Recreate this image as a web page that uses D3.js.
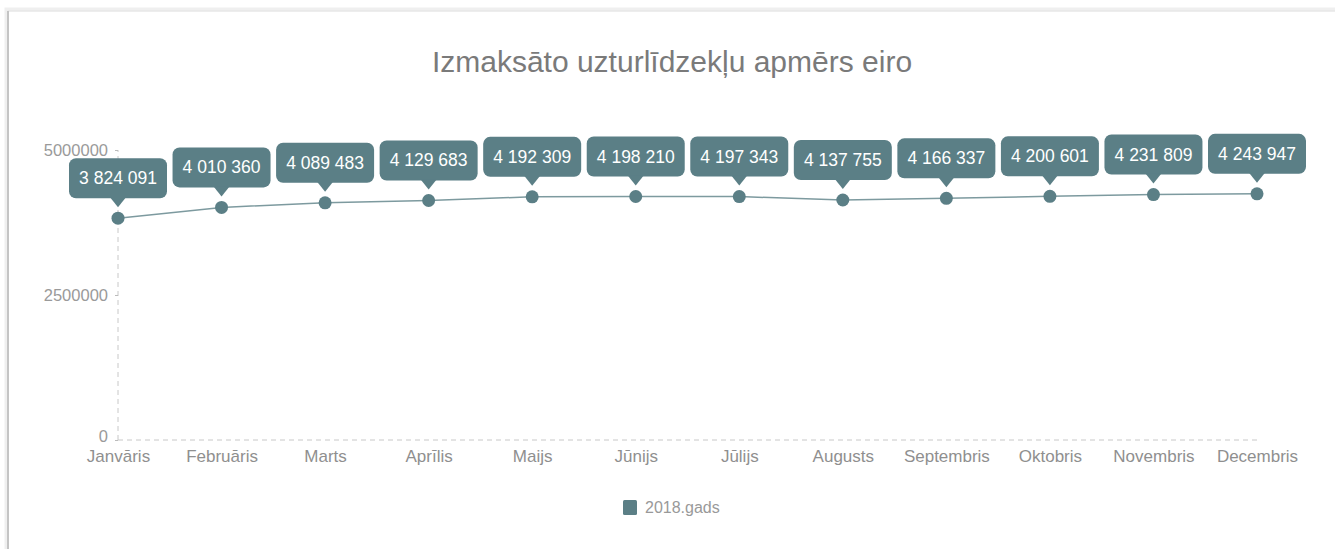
<!DOCTYPE html>
<html>
<head>
<meta charset="utf-8">
<script src="https://cdn.jsdelivr.net/npm/d3@7"></script>
<style>
	body { margin: 0; background: #fff; font-family: "Liberation Sans", Arial, sans-serif; }
</style>
</head>
<body>
<div id="chart-area"></div>
<script>
const months = ["Janvāris", "Februāris", "Marts", "Aprīlis", "Maijs", "Jūnijs",
	"Jūlijs", "Augusts", "Septembris", "Oktobris", "Novembris", "Decembris"]
const values2018 = [3824091, 4010360, 4089483, 4129683, 4192309, 4198210,
	4197343, 4137755, 4166337, 4200601, 4231809, 4243947]
const yTicks = [0, 2500000, 5000000]
const seriesName = "2018.gads"
const chartTitle = "Izmaksāto uzturlīdzekļu apmērs eiro"

const W = 1335, H = 549
const teal = "#5b7f86"

const svg = d3.select("#chart-area").append("svg")
	.attr("width", W)
	.attr("height", H)

// card frame (top + left edge with soft shadow)
svg.append("rect").attr("x", 6).attr("y", 9).attr("width", W).attr("height", H)
	.attr("fill", "none").attr("stroke", "#efefef").attr("stroke-width", 3)
svg.append("rect").attr("x", 8).attr("y", 11).attr("width", W).attr("height", H)
	.attr("fill", "#fff").attr("stroke", "#dcdcdc").attr("stroke-width", 1)
svg.append("line").attr("x1", 8).attr("x2", 8).attr("y1", 11).attr("y2", H)
	.attr("stroke", "#c4c4c4").attr("stroke-width", 2)

svg.append("text")
	.attr("x", 672).attr("y", 72)
	.attr("text-anchor", "middle")
	.attr("font-size", 30)
	.attr("fill", "#7a7a7a")
	.text(chartTitle)

const x = d3.scalePoint().domain(months).range([118, 1257])
const y = d3.scaleLinear().domain([0, 5000000]).range([440, 150])

// dashed axis lines
svg.append("line")
	.attr("x1", x(months[0])).attr("x2", x(months[months.length - 1]))
	.attr("y1", y(0)).attr("y2", y(0))
	.attr("stroke", "#c8c8c8").attr("stroke-dasharray", "5,4")
svg.append("line")
	.attr("x1", x(months[0])).attr("x2", x(months[0]))
	.attr("y1", y(0)).attr("y2", y(5000000))
	.attr("stroke", "#c8c8c8").attr("stroke-dasharray", "5,4")

// y tick labels
const yAxis = svg.append("g").attr("transform", `translate(${x(months[0])},0)`)
	.call(d3.axisLeft(y).tickValues(yTicks).tickSize(3).tickPadding(7).tickFormat(d3.format("d")))
yAxis.select(".domain").remove()
yAxis.selectAll("line").attr("stroke", "#bbb")
yAxis.selectAll("text").attr("fill", "#9a9a9a").attr("font-size", 16.5)
	.attr("font-family", "Liberation Sans, Arial, sans-serif")
	.attr("dy", d => d === 0 ? "0.1em" : "0.32em")

// x tick labels
const xAxis = svg.append("g").attr("transform", `translate(0,${y(0)})`)
	.call(d3.axisBottom(x).tickSize(0).tickPadding(10))
xAxis.select(".domain").remove()
xAxis.selectAll("text").attr("fill", "#8f8f8f").attr("font-size", 17)
	.attr("font-family", "Liberation Sans, Arial, sans-serif")

// line
const line = d3.line()
	.x((d, i) => x(months[i]))
	.y(d => y(d))
svg.append("path")
	.datum(values2018)
	.attr("d", line)
	.attr("fill", "none")
	.attr("stroke", "#7d9a9f")
	.attr("stroke-width", 1.5)

svg.selectAll("circle.pt")
	.data(values2018)
	.enter().append("circle")
	.attr("class", "pt")
	.attr("cx", (d, i) => x(months[i]))
	.attr("cy", d => y(d))
	.attr("r", 6.5)
	.attr("fill", teal)

// value callouts
const fmt = d => d3.format(",")(d).replace(/,/g, " ")
const labels = svg.selectAll("g.lbl")
	.data(values2018)
	.enter().append("g")
	.attr("class", "lbl")
	.attr("transform", (d, i) => `translate(${x(months[i])},${y(d)})`)

labels.append("rect")
	.attr("x", -49).attr("y", -60)
	.attr("width", 98).attr("height", 40)
	.attr("rx", 7)
	.attr("fill", teal)
labels.append("path")
	.attr("d", "M-8,-21 L0,-11 L8,-21 Z")
	.attr("fill", teal)
labels.append("text")
	.attr("x", 0).attr("y", -34)
	.attr("text-anchor", "middle")
	.attr("fill", "#fff")
	.attr("font-size", 17.5)
	.text(d => fmt(d))

// legend
svg.append("rect")
	.attr("x", 623).attr("y", 500)
	.attr("width", 14).attr("height", 15)
	.attr("rx", 1.5)
	.attr("fill", teal)
svg.append("text")
	.attr("x", 645).attr("y", 513)
	.attr("fill", "#999")
	.attr("font-size", 16)
	.text(seriesName)
</script>
</body>
</html>
